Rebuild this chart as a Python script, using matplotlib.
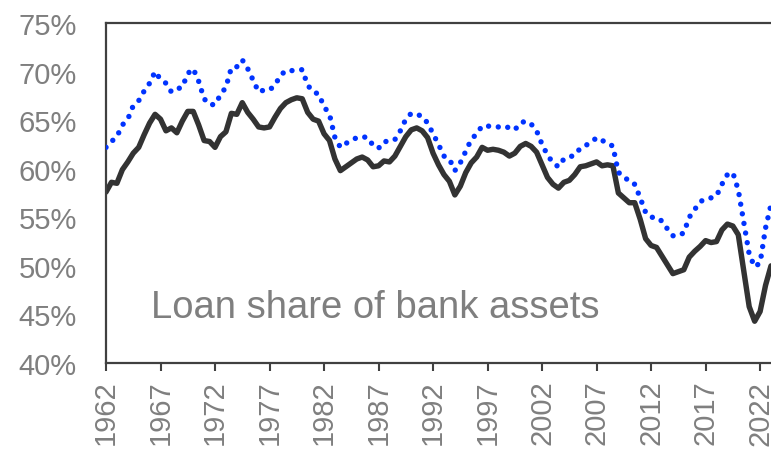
import numpy as np
import matplotlib
matplotlib.use("Agg")
import matplotlib.pyplot as plt
from matplotlib.ticker import FuncFormatter

plt.rcParams['font.family'] = ['Liberation Sans', 'DejaVu Sans']

# semi-annual observations, 1962.0 ... 2023.0
years = np.arange(1962.0, 2023.01, 0.5)

loan_share = [
    57.6, 58.6, 58.5, 59.9, 60.7, 61.6, 62.2, 63.5, 64.7, 65.6,   # 1962-1966.5
    65.1, 63.9, 64.2, 63.7, 64.9, 65.9, 65.9, 64.5, 62.9, 62.8,   # 1967-1971.5
    62.2, 63.3, 63.8, 65.7, 65.6, 66.8, 65.8, 65.1, 64.3, 64.2,   # 1972-1976.5
    64.3, 65.3, 66.2, 66.8, 67.1, 67.3, 67.2, 65.8, 65.1, 64.9,   # 1977-1981.5
    63.6, 62.9, 61.0, 59.8, 60.2, 60.6, 61.0, 61.2, 60.9, 60.2,   # 1982-1986.5
    60.3, 60.8, 60.7, 61.3, 62.3, 63.3, 64.0, 64.2, 63.9, 63.2,   # 1987-1991.5
    61.6, 60.4, 59.4, 58.7, 57.3, 58.2, 59.6, 60.6, 61.2, 62.2,   # 1992-1996.5
    61.9, 62.0, 61.9, 61.7, 61.3, 61.6, 62.3, 62.6, 62.3, 61.7,   # 1997-2001.5
    60.4, 59.1, 58.4, 58.0, 58.6, 58.8, 59.4, 60.2, 60.3, 60.5,   # 2002-2006.5
    60.7, 60.3, 60.4, 60.3, 57.5, 57.0, 56.5, 56.5, 54.8, 52.8,   # 2007-2011.5
    52.1, 51.9, 51.0, 50.1, 49.2, 49.4, 49.6, 50.9, 51.5, 52.0,   # 2012-2016.5
    52.6, 52.4, 52.5, 53.7, 54.3, 54.1, 53.2, 49.5, 45.8, 44.3,   # 2017-2021.5
    45.3, 48.0, 50.0,                                             # 2022-2023
]

comparison = [
    62.2, 62.8, 63.3, 64.5, 65.1, 66.5, 67.0, 68.0, 68.8, 70.0,
    69.2, 68.8, 67.9, 68.2, 68.4, 69.8, 70.3, 69.0, 67.2, 66.6,
    66.6, 67.6, 68.4, 70.4, 70.5, 71.2, 70.3, 69.1, 67.9, 68.1,
    68.1, 68.6, 69.6, 70.1, 70.1, 70.1, 70.2, 68.6, 67.9, 67.7,
    66.4, 65.6, 63.2, 62.2, 62.6, 62.9, 63.2, 63.3, 63.2, 62.4,
    62.1, 62.8, 62.8, 63.0, 63.9, 65.1, 65.7, 65.6, 65.4, 64.7,
    63.6, 62.5, 61.3, 61.0, 59.8, 60.6, 61.8, 63.0, 63.6, 64.4,
    64.4, 64.3, 64.3, 64.4, 64.2, 64.0, 64.7, 64.9, 64.6, 63.9,
    62.5, 61.4, 60.6, 60.2, 61.0, 61.2, 61.4, 62.1, 62.4, 62.7,
    63.2, 62.9, 62.7, 62.3, 59.6, 59.3, 58.6, 58.4, 57.0, 55.5,
    55.0, 55.0, 54.6, 53.8, 53.1, 53.1, 53.4, 55.0, 55.8, 56.6,
    56.9, 57.0, 57.2, 58.4, 59.4, 59.6, 57.8, 54.5, 51.2, 49.9,
    50.3, 53.9, 56.3,
]

tick_years = list(range(1962, 2023, 5))
y_ticks = list(range(40, 80, 5))
annotation = "Loan share of bank assets"

gray = '#7f7f7f'
dark = '#333333'

fig = plt.figure(figsize=(7.71, 4.52), dpi=100)
ax = fig.add_axes([106/771, 88/452, 1 - 106/771, 340/452])

ax.plot(years, loan_share, color=dark, lw=3.9, solid_joinstyle='round',
        solid_capstyle='round', zorder=2)
ax.plot(years, comparison, color='#0033ff', lw=3.9,
        linestyle=(0, (0.001, 1.8)), dash_capstyle='round', zorder=3)

ax.set_xlim(1962, 2023)
ax.set_ylim(40, 75)
ax.set_xticks(tick_years)
ax.set_xticklabels([str(y) for y in tick_years], rotation=90)
ax.set_yticks(y_ticks)
ax.yaxis.set_major_formatter(FuncFormatter(lambda v, p: f"{v:.0f}%"))

for s in ['left', 'top', 'bottom']:
    ax.spines[s].set_color('#404040')
    ax.spines[s].set_linewidth(1.6)
ax.spines['right'].set_visible(False)

ax.tick_params(axis='x', direction='out', length=6, width=1.5, color='#404040',
               labelsize=21, labelcolor=gray, pad=6)
ax.tick_params(axis='y', length=0, labelsize=21, labelcolor=gray, pad=21)

ax.text(0.068, 0.135, annotation, transform=ax.transAxes, fontsize=27.5,
        color=gray, ha='left', va='baseline')

fig.savefig('out.png', dpi=100)
